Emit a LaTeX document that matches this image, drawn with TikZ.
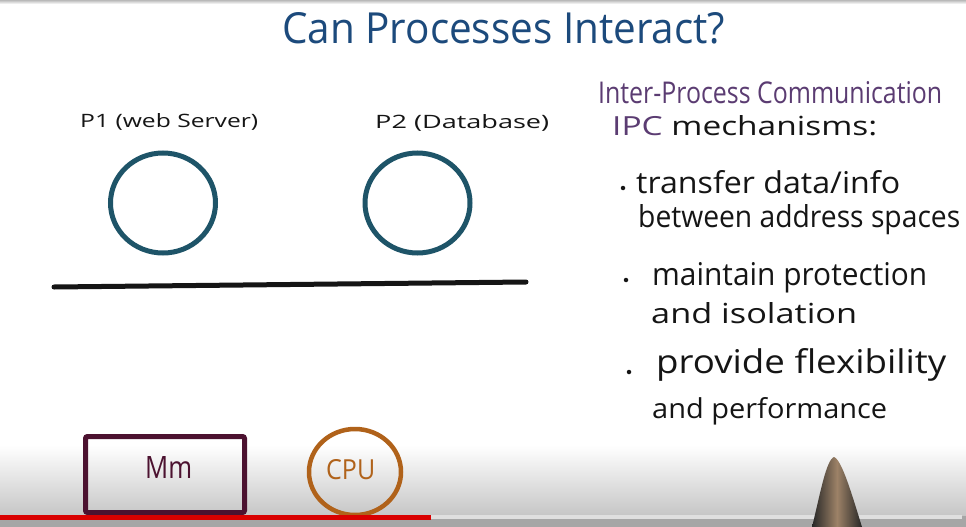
\documentclass[tikz,border=0pt]{standalone}
\usepackage{fontspec}
\setmainfont{Open Sans}
\usetikzlibrary{shapes.geometric}
\definecolor{titleblue}{HTML}{1C4A7C}
\definecolor{procteal}{HTML}{1E5468}
\definecolor{ipcpurple}{HTML}{5B3C72}
\definecolor{mmmaroon}{HTML}{4C1230}
\definecolor{cpubrown}{HTML}{B0621A}
\definecolor{inkblack}{HTML}{151515}
\newcommand{\hw}[3]{\resizebox{#1pt}{#2pt}{#3}}
\tikzset{
  hand/.style={inner sep=0pt, anchor=base west, text=inkblack},
  procring/.style={draw=procteal, line width=5pt, ellipse, minimum width=105pt, minimum height=100pt, inner sep=0pt},
  bulletdot/.style={circle, fill=inkblack, inner sep=0pt, minimum size=4.5pt},
}
\begin{document}
\begin{tikzpicture}[x=1pt,y=-1pt]
\useasboundingbox (0,0) rectangle (966,527);
\fill[white] (0,0) rectangle (966,527);
% top edge
\shade[top color=gray!55, bottom color=white] (0,0) rectangle (966,4);
% bottom video gradient
\shade[top color=white, bottom color=gray!45] (0,445) rectangle (966,516);
\fill[gray!70] (0,516) rectangle (966,527);

% title
\node[hand, text=titleblue] (title) at (282,43) {\hw{443}{31}{Can Processes Interact?}};

% processes
\node[hand] (p1lbl) at (80,127) {\hw{178}{14}{P1 (web Server)}};
\node[hand] (p2lbl) at (375,128) {\hw{174}{14}{P2 (Database)}};
\node[procring] (p1) at (163,203) {};
\node[procring] (p2) at (417.5,203) {};

% kernel boundary line
\coordinate (lineL) at (54,287);
\coordinate (lineR) at (526,282);
\draw[inkblack, line width=5pt, line cap=round] (lineL) -- (lineR);

% hardware
\node[draw=mmmaroon, line width=5pt, minimum width=159pt, minimum height=76pt, rounded corners=2pt, inner sep=0pt] (mm) at (165,474.5) {};
\node[hand, text=mmmaroon] (mmlbl) at (145,478) {\hw{47}{22}{Mm}};
\node[draw=cpubrown, line width=4.5pt, ellipse, minimum width=92pt, minimum height=86pt, inner sep=0pt] (cpu) at (355,472) {};
\node[hand, text=cpubrown] (cpulbl) at (326,479) {\hw{49}{20}{CPU}};

% IPC text
\node[hand, text=ipcpurple] (ipc1) at (598,103) {\hw{344}{22}{Inter-Process Communication}};
\node[hand] (ipc2) at (612,135) {\hw{265}{20}{\textcolor{ipcpurple}{IPC} mechanisms:}};

\node[bulletdot] (b1) at (623,188) {};
\node[hand] (t1a) at (636,193) {\hw{264}{23}{transfer data/info}};
\node[hand] (t1b) at (638,227) {\hw{322}{23}{between address spaces}};

\node[bulletdot] (b2) at (626,280) {};
\node[hand] (t2a) at (652,285) {\hw{275}{23}{maintain protection}};
\node[hand] (t2b) at (651,323) {\hw{206}{21}{and isolation}};

\node[bulletdot] (b3) at (629,372) {};
\node[hand] (t3a) at (656,373) {\hw{290}{25}{provide flexibility}};
\node[hand] (t3b) at (652,418) {\hw{235}{21}{and performance}};

% progress bar
\fill[gray!25] (431,515) rectangle (962,519);
\fill[red!85!black] (0,515) rectangle (431,519.5);

% pen tip
\shade[left color=black!85, right color=black!85, middle color=brown!60!black!70]
  (812,527) .. controls (820,495) and (826,460) .. (834,457)
  .. controls (842,460) and (852,495) .. (862,527) -- cycle;
\end{tikzpicture}
\end{document}
